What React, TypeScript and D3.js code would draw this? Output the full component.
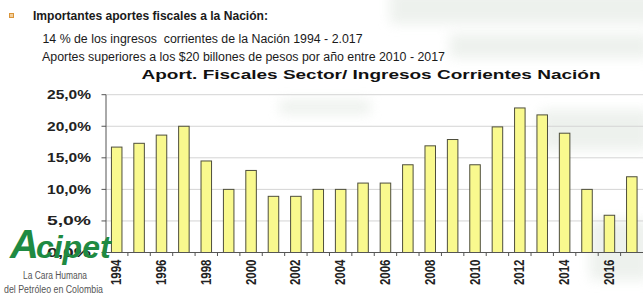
import * as d3 from "d3";

// chart data
const years = [
  "1994", "1995", "1996", "1997", "1998", "1999", "2000", "2001",
  "2002", "2003", "2004", "2005", "2006", "2007", "2008", "2009",
  "2010", "2011", "2012", "2013", "2014", "2015", "2016", "2017",
];
const aportes = [
  16.7, 17.3, 18.6, 20.0, 14.5, 10.0, 13.0, 8.9,
  8.9, 10.0, 10.0, 11.0, 11.0, 13.9, 16.9, 17.9,
  13.9, 19.9, 22.9, 21.8, 18.9, 10.0, 5.9, 12.0,
];
const yTicks = [0, 5, 10, 15, 20, 25];
const yTickLabels = ["0,0%", "5,0%", "10,0%", "15,0%", "20,0%", "25,0%"];

const width = 643;
const height = 296;
const font = "'Liberation Sans', Arial, sans-serif";

export default function App() {
  const x = d3.scaleBand<string>()
    .domain(years)
    .range([105.5, 643])
    .paddingInner(0.53)
    .paddingOuter(0.265);

  const y = d3.scaleLinear()
    .domain([0, 25])
    .range([252.5, 94.7]);

  const step = x.step();
  const gap = (step - x.bandwidth()) / 2;
  const boundaries = years.map(d => x(d)! - gap);

  return (
    <svg width={width} height={height}
      style={{ position: "absolute", left: 0, top: 0, background: "#fff" }}>
      <defs>
        <filter id="soft" x="-20%" y="-20%" width="140%" height="140%">
          <feGaussianBlur stdDeviation="6" />
        </filter>
      </defs>

      {/* faint watermark in the background */}
      <g filter="url(#soft)" fill="#e9eee9" opacity={0.8}>
        <rect x={390} y={-10} width={270} height={34} />
        <rect x={450} y={34} width={200} height={24} />
        <rect x={280} y={100} width={90} height={14} />
        <rect x={540} y={110} width={110} height={40} />
        <rect x={590} y={220} width={60} height={60} />
      </g>

      {/* header */}
      <rect x={9.5} y={13.5} width={4} height={4} fill="#f4cf9a" stroke="#d9953a" strokeWidth={1} />
      <text x={33} y={20} fontFamily={font} fontWeight="bold" fontSize={12}
        textLength={235} lengthAdjust="spacingAndGlyphs" fill="#1a1a1a">
        Importantes aportes fiscales a la Nación:
      </text>
      <text x={42.5} y={43} fontFamily={font} fontSize={12} style={{ whiteSpace: "pre" }}
        textLength={320} lengthAdjust="spacingAndGlyphs" fill="#1a1a1a">
        14 % de los ingresos  corrientes de la Nación 1994 - 2.017
      </text>
      <text x={42} y={61} fontFamily={font} fontSize={12}
        textLength={403} lengthAdjust="spacingAndGlyphs" fill="#1a1a1a">
        Aportes superiores a los $20 billones de pesos por año entre 2010 - 2017
      </text>
      <text x={141.5} y={78.5} fontFamily={font} fontWeight="bold" fontSize={13}
        textLength={459} lengthAdjust="spacingAndGlyphs" fill="#111">
        Aport. Fiscales Sector/ Ingresos Corrientes Nación
      </text>

      {/* grid and y axis */}
      {yTicks.map((t, i) => (
        <g key={t}>
          {t > 0 && (
            <line x1={106} x2={width} y1={y(t)} y2={y(t)} stroke="#d4d4d4" strokeWidth={1} />
          )}
          <line x1={101.5} x2={106} y1={y(t)} y2={y(t)} stroke="#555" strokeWidth={1} />
          <text x={91} y={y(t)} dy="0.36em" textAnchor="end" fontFamily={font}
            fontWeight="bold" fontSize={12.5} textLength={44} lengthAdjust="spacingAndGlyphs"
            fill="#222">
            {yTickLabels[i]}
          </text>
        </g>
      ))}
      <line x1={106} x2={106} y1={y(25)} y2={y(0)} stroke="#555" strokeWidth={1} />

      {/* bars */}
      {years.map((d, i) => (
        <rect key={d} x={x(d)!} y={y(aportes[i])} width={x.bandwidth()}
          height={y(0) - y(aportes[i])} fill="#f9f98e" stroke="#4e4e3c" strokeWidth={1} />
      ))}

      {/* x axis */}
      <line x1={105.5} x2={width} y1={y(0)} y2={y(0)} stroke="#555" strokeWidth={1} />
      {boundaries.map((b, i) => (
        <line key={i} x1={b} x2={b} y1={y(0)} y2={y(0) + 3.5} stroke="#555" strokeWidth={1} />
      ))}
      {years.map((d, i) => i % 2 === 0 && (
        <text key={d} fontFamily={font} fontWeight="bold" fontSize={11.5} textAnchor="end"
          fill="#222"
          transform={`translate(${x(d)! + x.bandwidth() / 2 + 4.5},259.5) scale(1.3,1) rotate(-90)`}>
          {d}
        </text>
      ))}

      {/* logo, drawn over the 0,0% label as in the picture */}
      <text x={10} y={258} fontFamily={font} fontWeight="bold" fontStyle="italic"
        fill="#1f8a42">
        <tspan fontSize={40}>A</tspan>
        <tspan fontSize={32} dx={-3}>cipet</tspan>
      </text>
      <text x={55} y={279} textAnchor="middle" fontFamily={font} fontSize={10}
        textLength={64} lengthAdjust="spacingAndGlyphs" fill="#555">
        La Cara Humana
      </text>
      <text x={53.5} y={292.5} textAnchor="middle" fontFamily={font} fontSize={10}
        textLength={99} lengthAdjust="spacingAndGlyphs" fill="#555">
        del Petróleo en Colombia
      </text>
    </svg>
  );
}
